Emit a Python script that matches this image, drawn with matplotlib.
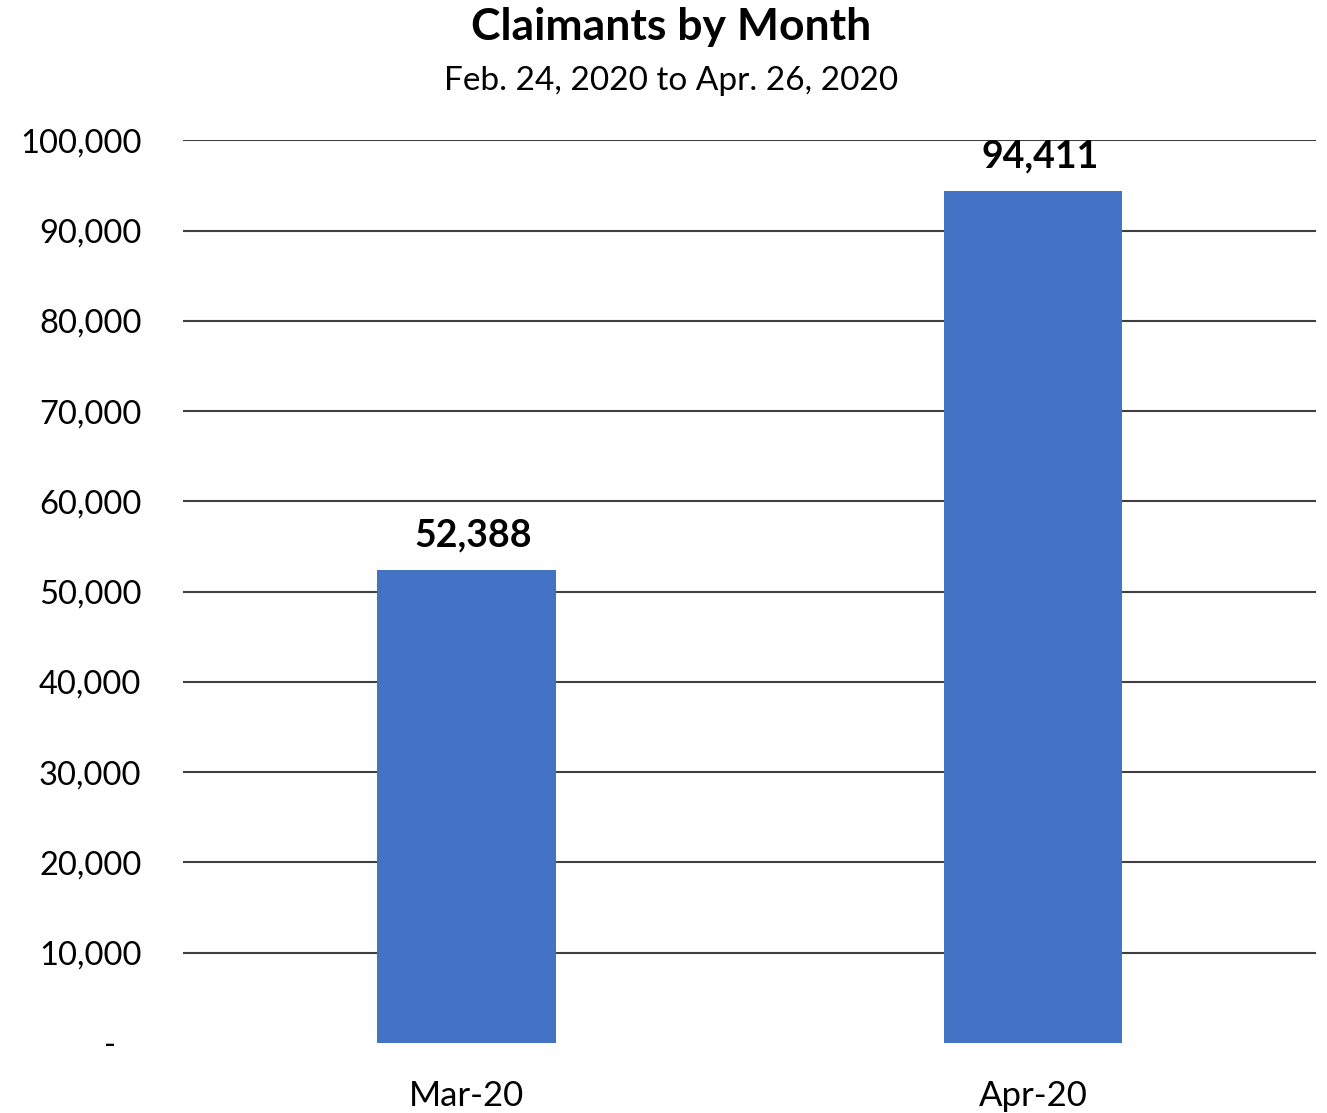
import matplotlib.pyplot as plt
from matplotlib.ticker import FuncFormatter

plt.rcParams['font.family'] = ['Lato', 'DejaVu Sans']

months = ['Mar-20', 'Apr-20']
claimants = [52388, 94411]
y_ticks = [0, 10000, 20000, 30000, 40000, 50000, 60000, 70000, 80000, 90000, 100000]


def fmt(v, pos):
    # zero shown as a dash, as in accounting format
    if v == 0:
        return '-   '
    return '{:,.0f}'.format(v)


fig = plt.figure(figsize=(13.27, 11.13), dpi=100)
ax = fig.add_axes([0.138, 0.0629, 0.854, 0.811])

x = range(len(months))
bars = ax.bar(x, claimants, width=0.315, color='#4472C4', zorder=3)

for b, v in zip(bars, claimants):
    ax.text(b.get_x() + b.get_width() / 2 + 0.012, v + 1900, '{:,}'.format(v),
            ha='center', va='bottom', fontsize=27, fontweight='bold')

ax.set_xlim(-0.5, 1.5)
ax.set_ylim(0, 100000)
ax.set_yticks(y_ticks)
ax.yaxis.set_major_formatter(FuncFormatter(fmt))
ax.set_xticks(list(x))
ax.set_xticklabels(months)
ax.tick_params(axis='y', length=0, labelsize=23.5, pad=30)
ax.tick_params(axis='x', length=0, labelsize=25, pad=27)

ax.grid(axis='y', color='#404040', linewidth=1.5, zorder=0)
ax.yaxis.get_gridlines()[0].set_visible(False)
for s in ax.spines.values():
    s.set_visible(False)

fig.text(0.506, 0.976, 'Claimants by Month', ha='center', va='center',
         fontsize=32, fontweight='bold')
fig.text(0.506, 0.927, 'Feb. 24, 2020 to Apr. 26, 2020', ha='center', va='center',
         fontsize=24)

fig.savefig('out.png', dpi=100)
